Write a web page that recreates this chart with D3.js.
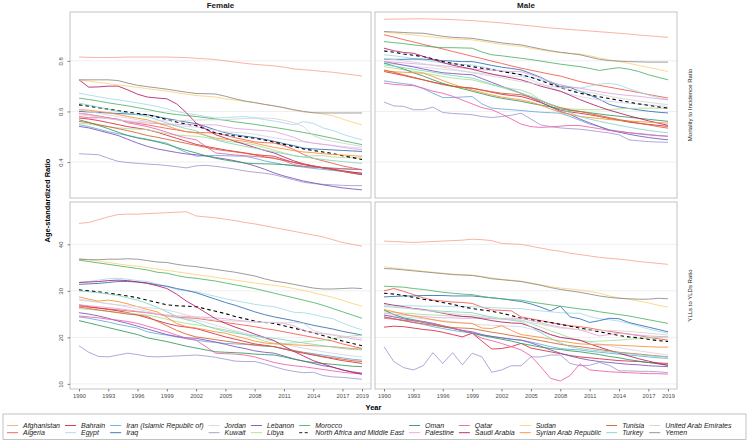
<!DOCTYPE html>
<html><head><meta charset="utf-8">
<script src="https://cdn.jsdelivr.net/npm/d3@7"></script>
<style>
body{margin:0;background:#fff;}
svg{display:block;font-family:"Liberation Sans",Arial,sans-serif;}
</style></head>
<body><svg id="c" width="749" height="440"></svg>
<script>
const years = [1990,1991,1992,1993,1994,1995,1996,1997,1998,1999,2000,2001,2002,2003,2004,2005,2006,2007,2008,2009,2010,2011,2012,2013,2014,2015,2016,2017,2018,2019];
const xTicks = [1990,1993,1996,1999,2002,2005,2008,2011,2014,2017,2019];
const mirTicks = [0.4,0.6,0.8];
const yllTicks = [10,20,30,40];
const sexes = ["Female","Male"];
const measures = ["Mortality to Incidence Ratio","YLLs to YLDs Ratio"];
const countries = ["Afghanistan","Algeria","Bahrain","Egypt","Iran (Islamic Republic of)","Iraq","Jordan","Kuwait","Lebanon","Libya","Morocco","North Africa and Middle East","Oman","Palestine","Qatar","Saudi Arabia","Sudan","Syrian Arab Republic","Tunisia","Turkey","United Arab Emirates","Yemen"];
const colors = ["#FCA58C","#F0584A","#D7263D","#A6D8EA","#67A9DA","#2F6DB5","#D5D3EA","#A099D0","#7B52B9","#A9DE94","#4DB466","#000000","#2E9A5A","#E3A3DB","#EF5DA8","#B21A67","#FDD27A","#FB8C2E","#D3602C","#7FD4C0","#D3D3D3","#8A8A8A"];
const dashed = [false,false,false,false,false,false,false,false,false,false,false,true,false,false,false,false,false,false,false,false,false,false];

// Female, Mortality to Incidence Ratio (order = countries)
const femaleMIR = [
[.815,.814,.813,.813,.814,.815,.815,.815,.815,.815,.814,.813,.81,.808,.805,.80,.795,.79,.786,.783,.78,.775,.768,.765,.762,.758,.755,.75,.745,.74],
[.593,.588,.582,.575,.568,.56,.553,.547,.54,.533,.527,.52,.517,.516,.515,.506,.496,.488,.48,.477,.475,.465,.45,.43,.415,.405,.395,.385,.377,.37],
[.574,.57,.564,.556,.548,.54,.534,.528,.518,.506,.494,.482,.47,.462,.455,.448,.442,.436,.43,.426,.423,.41,.398,.39,.383,.376,.37,.363,.356,.35],
[.672,.665,.658,.651,.646,.64,.634,.627,.62,.61,.60,.592,.587,.58,.574,.576,.578,.58,.575,.568,.562,.555,.547,.56,.553,.535,.525,.51,.498,.488],
[.548,.54,.53,.52,.512,.505,.497,.49,.482,.475,.455,.438,.423,.425,.426,.425,.424,.423,.415,.405,.397,.39,.385,.38,.375,.371,.367,.363,.36,.357],
[.60,.598,.596,.594,.592,.59,.588,.587,.58,.572,.565,.558,.552,.54,.527,.516,.508,.502,.497,.49,.482,.473,.465,.455,.452,.45,.448,.446,.444,.442],
[.607,.60,.593,.586,.58,.574,.567,.56,.554,.548,.543,.541,.538,.532,.525,.52,.517,.515,.51,.503,.496,.49,.485,.48,.475,.47,.466,.462,.458,.455],
[.433,.431,.429,.415,.403,.398,.395,.392,.39,.386,.382,.377,.385,.387,.383,.378,.372,.365,.36,.356,.35,.34,.33,.32,.315,.312,.31,.308,.307,.307],
[.541,.535,.525,.515,.505,.49,.475,.462,.452,.445,.438,.432,.429,.424,.418,.412,.405,.396,.385,.372,.357,.345,.335,.325,.318,.31,.304,.298,.294,.29],
[.554,.55,.545,.54,.535,.532,.53,.528,.52,.512,.507,.504,.502,.497,.49,.483,.478,.475,.468,.458,.447,.436,.425,.42,.425,.425,.42,.418,.417,.416],
[.653,.647,.641,.634,.628,.622,.615,.608,.60,.593,.588,.584,.58,.575,.57,.565,.559,.554,.549,.543,.537,.531,.524,.517,.51,.502,.494,.485,.477,.469],
[.626,.621,.615,.609,.603,.597,.592,.587,.578,.568,.558,.55,.544,.53,.515,.508,.503,.499,.494,.487,.479,.47,.461,.452,.446,.44,.434,.425,.418,.41],
[.567,.557,.545,.532,.518,.505,.495,.488,.48,.47,.458,.446,.436,.425,.415,.408,.402,.396,.394,.393,.392,.39,.386,.383,.38,.378,.376,.374,.372,.37],
[.593,.588,.58,.572,.566,.56,.556,.554,.552,.55,.549,.548,.548,.547,.547,.54,.533,.53,.527,.524,.521,.51,.498,.482,.475,.47,.465,.458,.453,.449],
[.58,.575,.575,.574,.57,.555,.548,.54,.53,.518,.505,.495,.488,.462,.436,.432,.428,.425,.422,.419,.416,.405,.39,.383,.38,.377,.375,.373,.371,.37],
[.725,.696,.697,.70,.70,.685,.668,.657,.653,.65,.63,.595,.554,.53,.508,.495,.482,.47,.458,.446,.436,.42,.405,.393,.385,.378,.372,.366,.36,.355],
[.725,.72,.715,.71,.705,.70,.695,.69,.685,.68,.674,.668,.663,.66,.657,.65,.645,.64,.635,.628,.622,.614,.605,.598,.595,.59,.583,.57,.558,.547],
[.607,.605,.60,.595,.588,.58,.573,.567,.555,.543,.53,.52,.515,.505,.495,.49,.486,.482,.475,.466,.458,.452,.445,.44,.437,.433,.43,.428,.425,.423],
[.561,.555,.548,.54,.532,.524,.515,.505,.498,.49,.482,.474,.466,.458,.45,.445,.44,.435,.428,.421,.414,.407,.399,.392,.385,.378,.371,.364,.357,.35],
[.633,.625,.617,.608,.60,.593,.587,.58,.568,.555,.542,.532,.524,.505,.488,.478,.47,.462,.455,.448,.44,.433,.426,.42,.415,.41,.406,.402,.398,.395],
[.587,.583,.578,.572,.567,.563,.561,.561,.562,.563,.564,.565,.566,.567,.567,.568,.57,.572,.574,.574,.572,.565,.556,.54,.505,.49,.482,.475,.468,.462],
[.725,.725,.725,.725,.722,.712,.703,.698,.693,.688,.682,.676,.671,.67,.669,.66,.65,.641,.635,.628,.622,.615,.607,.60,.595,.594,.594,.594,.594,.594]
];

// Male, Mortality to Incidence Ratio
const maleMIR = [
[.964,.965,.965,.966,.966,.965,.964,.963,.961,.959,.956,.953,.95,.946,.942,.938,.934,.93,.927,.924,.921,.918,.915,.912,.909,.906,.902,.899,.896,.893],
[.903,.894,.884,.875,.865,.856,.847,.837,.828,.818,.809,.799,.79,.78,.771,.763,.755,.747,.74,.729,.718,.71,.703,.696,.689,.682,.675,.667,.66,.653],
[.758,.75,.742,.733,.725,.716,.708,.70,.696,.692,.684,.676,.668,.663,.659,.648,.635,.62,.605,.598,.593,.587,.58,.572,.565,.558,.553,.549,.545,.541],
[.824,.82,.815,.809,.803,.797,.792,.788,.786,.784,.776,.768,.76,.752,.745,.735,.725,.715,.705,.697,.692,.70,.708,.711,.705,.69,.678,.665,.655,.646],
[.721,.715,.71,.705,.69,.672,.655,.655,.657,.659,.63,.613,.61,.607,.604,.60,.597,.595,.593,.58,.565,.55,.54,.528,.522,.516,.511,.507,.504,.502],
[.807,.806,.806,.807,.807,.804,.801,.799,.797,.797,.79,.782,.775,.77,.764,.75,.735,.715,.698,.695,.68,.665,.648,.628,.618,.612,.606,.601,.597,.594],
[.791,.787,.783,.779,.775,.771,.767,.763,.759,.755,.75,.746,.742,.74,.738,.725,.71,.695,.68,.668,.659,.652,.645,.64,.636,.632,.629,.626,.623,.62],
[.637,.622,.62,.607,.607,.617,.596,.592,.59,.587,.58,.576,.58,.585,.593,.57,.547,.54,.535,.532,.53,.525,.52,.515,.508,.488,.484,.481,.479,.478],
[.797,.79,.783,.776,.768,.76,.753,.75,.747,.745,.73,.715,.70,.686,.672,.655,.637,.618,.60,.588,.57,.555,.54,.526,.518,.51,.503,.497,.492,.488],
[.777,.771,.765,.759,.753,.745,.738,.732,.728,.725,.715,.705,.697,.69,.685,.67,.645,.625,.615,.61,.608,.607,.607,.607,.61,.612,.613,.613,.613,.613],
[.876,.872,.868,.863,.859,.855,.852,.852,.851,.85,.835,.824,.82,.815,.81,.805,.799,.793,.787,.782,.777,.77,.762,.768,.773,.767,.758,.745,.735,.725],
[.839,.834,.827,.822,.817,.808,.797,.79,.783,.777,.771,.765,.758,.752,.745,.735,.722,.708,.695,.683,.672,.665,.658,.651,.644,.637,.63,.624,.618,.613],
[.791,.78,.768,.753,.74,.725,.711,.70,.69,.68,.67,.66,.652,.646,.64,.632,.625,.618,.61,.604,.60,.595,.59,.585,.581,.577,.573,.569,.565,.561],
[.797,.795,.792,.789,.786,.783,.78,.776,.772,.768,.765,.763,.76,.758,.757,.745,.732,.718,.705,.697,.692,.685,.678,.672,.667,.663,.66,.655,.65,.646],
[.712,.707,.704,.702,.692,.68,.672,.66,.645,.63,.615,.607,.59,.57,.55,.54,.537,.539,.542,.545,.544,.538,.532,.525,.52,.516,.513,.509,.505,.502],
[.85,.84,.833,.83,.818,.805,.793,.783,.775,.767,.757,.748,.74,.733,.725,.713,.70,.69,.68,.664,.647,.632,.618,.605,.594,.583,.573,.563,.554,.545],
[.913,.91,.906,.902,.898,.894,.89,.887,.885,.883,.877,.871,.865,.861,.857,.85,.843,.837,.832,.83,.827,.82,.812,.804,.797,.79,.782,.774,.766,.758],
[.76,.757,.755,.753,.751,.738,.722,.708,.695,.685,.675,.665,.657,.651,.646,.637,.625,.61,.597,.588,.58,.576,.572,.568,.565,.562,.56,.558,.556,.554],
[.764,.755,.745,.735,.725,.715,.706,.699,.695,.692,.685,.678,.672,.669,.666,.655,.642,.628,.615,.606,.60,.592,.584,.576,.568,.561,.554,.547,.54,.534],
[.784,.779,.773,.767,.761,.755,.748,.742,.737,.732,.72,.708,.695,.683,.672,.66,.645,.628,.61,.595,.58,.57,.561,.553,.545,.538,.531,.525,.52,.515],
[.81,.805,.80,.795,.789,.782,.775,.767,.76,.753,.746,.74,.733,.725,.718,.712,.706,.70,.694,.687,.681,.675,.668,.66,.653,.647,.641,.636,.631,.627],
[.916,.914,.912,.91,.909,.903,.897,.893,.891,.889,.883,.877,.871,.867,.863,.855,.847,.84,.834,.829,.824,.815,.806,.801,.799,.797,.796,.795,.795,.795]
];

// Female, YLLs to YLDs Ratio
const femaleYLL = [
[44.5,44.7,45.3,45.9,46.4,46.5,46.5,46.6,46.7,46.8,46.9,47.0,46.1,45.9,45.7,45.4,45.1,44.7,44.4,44.0,43.6,43.2,42.8,42.4,42.0,41.6,41.0,40.4,40.0,39.6],
[26.7,26.5,26.3,26.1,25.9,25.7,25.5,25.3,25.0,24.6,24.3,24.2,24.1,23.8,23.5,23.2,22.9,22.6,22.3,21.9,21.6,21.2,20.8,20.4,20.0,19.6,19.2,18.6,18.1,17.6],
[27.0,26.6,26.3,26.0,25.7,25.3,24.8,24.2,23.6,23.0,22.5,22.2,21.9,21.3,20.7,20.1,19.6,19.1,18.6,18.3,18.0,17.5,17.0,16.6,16.2,15.8,15.4,15.0,14.7,14.4],
[31.8,32.0,32.3,32.6,32.7,32.5,32.2,32.0,31.5,30.9,30.3,30.0,29.8,29.3,28.8,28.3,27.9,27.5,27.1,26.8,26.6,26.0,25.4,25.3,24.9,24.4,24.0,23.1,22.3,21.6],
[24.4,24.1,23.7,23.3,22.8,22.4,22.0,21.2,20.8,20.5,20.1,19.7,19.4,19.1,18.9,18.7,18.6,18.5,18.3,18.1,18.0,17.6,17.2,16.8,16.5,16.2,15.9,15.6,15.3,15.1],
[31.4,31.5,31.6,31.8,32.0,32.0,31.9,31.7,31.3,31.0,30.5,30.1,29.6,28.9,28.2,27.5,26.9,26.2,25.5,24.9,24.4,24.0,23.6,23.1,22.6,22.2,21.8,21.3,20.9,20.5],
[28.2,27.9,27.6,27.3,26.9,26.5,26.1,25.6,25.1,24.6,24.2,23.9,23.7,23.2,22.6,22.0,21.4,20.9,20.4,19.7,19.1,18.6,18.1,17.7,17.3,16.9,16.6,16.3,16.0,15.8],
[18.2,16.8,15.9,15.8,16.2,16.6,16.3,15.9,15.8,15.9,16.0,16.1,16.2,16.0,15.7,15.3,14.9,14.8,14.8,14.3,13.7,13.1,12.7,12.4,12.5,11.8,11.5,11.4,11.2,11.0],
[25.3,25.0,24.6,24.1,23.5,23.0,22.4,21.8,21.2,20.6,20.2,19.9,19.8,19.4,19.0,18.5,18.0,17.6,17.1,16.8,16.6,16.0,15.4,14.9,14.4,13.9,13.6,13.0,12.6,12.3],
[26.2,26.0,25.8,25.6,25.4,25.2,25.0,24.8,24.4,23.9,23.4,23.0,22.7,22.4,22.0,21.6,21.2,20.6,19.9,19.2,18.7,18.7,18.8,19.0,19.2,19.4,19.7,20.0,20.3,20.5],
[36.6,36.3,36.0,35.7,35.4,35.1,34.8,34.5,34.0,33.8,33.3,32.9,32.7,32.4,32.1,31.7,31.3,30.9,30.5,30.0,29.5,29.0,28.5,28.0,27.5,26.9,26.2,25.5,24.8,24.1],
[30.2,30.0,29.8,29.5,29.2,28.9,28.5,28.0,27.5,27.0,26.8,26.7,26.6,26.1,25.6,25.1,24.5,24.0,23.5,23.2,23.0,22.5,22.0,21.5,21.0,20.4,19.8,19.2,18.7,18.2],
[23.6,23.1,22.6,22.1,21.6,21.1,20.6,19.9,19.5,19.1,18.6,18.1,17.7,17.3,16.9,16.8,16.7,16.6,16.4,16.3,16.2,15.8,15.3,14.9,14.6,14.4,14.2,14.0,13.8,13.7],
[27.0,26.8,26.6,26.4,26.2,25.9,25.6,25.3,25.0,24.8,24.6,24.5,24.4,24.3,24.2,24.0,23.7,23.5,23.3,23.2,23.2,23.0,22.5,21.5,21.0,20.8,20.5,20.1,19.7,19.4],
[24.6,24.4,24.2,23.9,23.7,23.4,23.0,22.4,21.8,21.2,20.5,19.8,19.4,18.0,16.6,16.5,16.4,16.2,15.8,15.2,14.6,14.2,13.9,13.7,13.4,13.1,12.8,12.5,12.3,12.1],
[31.8,31.9,32.0,32.2,32.3,32.2,31.9,31.6,31.1,30.5,29.3,27.8,26.6,25.3,24.0,23.0,22.2,21.5,20.7,20.0,19.3,18.1,17.0,16.0,15.0,14.3,13.6,13.0,12.5,12.1],
[37.0,36.7,36.4,36.1,35.8,35.5,35.3,35.0,34.7,34.4,34.1,33.8,33.5,33.2,32.9,32.6,32.3,32.0,31.7,31.4,31.2,30.9,30.5,30.1,29.6,29.1,28.6,28.0,27.3,26.7],
[28.7,28.2,27.8,28.0,27.7,27.2,26.6,26.0,25.5,24.3,23.0,22.3,22.0,21.6,21.2,20.9,20.3,19.8,19.2,18.8,18.6,18.5,18.4,18.3,18.2,18.1,18.0,17.8,17.6,17.5],
[26.5,26.2,25.9,25.6,25.3,25.0,24.8,24.5,23.5,22.5,21.5,20.7,20.1,19.8,19.5,19.2,18.9,18.6,18.4,18.2,18.0,17.5,17.1,16.7,16.3,15.9,15.6,15.3,15.0,14.8],
[30.0,29.8,29.6,29.3,29.0,28.5,28.0,27.3,26.5,25.5,24.5,23.8,23.3,22.5,21.8,21.3,20.9,20.6,20.3,20.0,19.8,19.5,19.1,18.8,18.5,18.2,17.9,17.6,17.4,17.3],
[28.0,27.8,27.5,27.2,27.0,26.8,26.6,26.4,26.2,25.9,25.4,24.8,24.3,24.0,23.7,23.6,23.5,23.4,23.3,23.3,23.2,23.1,23.2,23.0,21.5,20.9,20.6,20.3,20.0,19.8],
[36.8,36.7,36.7,36.8,36.8,36.9,36.8,36.5,36.2,36.1,35.7,35.4,35.2,34.9,34.6,34.3,34.0,33.6,33.2,32.6,32.1,31.8,31.4,31.0,30.6,30.4,30.4,30.5,30.6,30.5]
];

// Male, YLLs to YLDs Ratio
const maleYLL = [
[40.7,40.6,40.5,40.4,40.5,40.6,40.7,40.8,40.9,41.1,41.0,40.8,40.2,40.1,40.0,39.6,39.2,38.8,38.5,38.1,37.8,37.5,37.2,37.0,36.8,36.6,36.3,36.1,35.9,35.7],
[30.0,30.5,29.9,29.2,28.5,28.0,27.8,27.6,27.5,27.3,26.5,25.9,25.8,25.7,24.4,24.0,23.6,23.2,22.8,22.5,22.3,22.0,21.6,21.3,21.0,20.7,20.4,20.0,19.7,19.4],
[22.2,22.4,22.3,22.0,21.7,21.5,21.1,20.6,20.1,20.9,19.2,17.5,17.6,18.0,18.7,17.7,17.3,16.9,16.5,16.1,15.8,15.6,15.4,15.2,15.0,14.9,14.8,14.6,14.5,14.4],
[27.0,26.9,26.8,26.8,26.7,26.7,26.7,26.6,26.6,26.6,26.5,26.4,26.3,26.2,26.2,25.9,25.7,25.5,25.3,25.2,25.2,24.5,24.0,23.8,23.5,23.0,22.4,21.8,21.3,20.9],
[24.4,24.0,23.6,23.2,22.8,22.3,21.9,21.5,21.2,20.9,20.5,20.2,19.9,19.6,19.4,19.0,18.5,18.0,17.6,17.4,17.3,17.0,16.8,16.6,16.4,16.2,16.0,15.8,15.6,15.5],
[28.7,28.8,28.9,28.9,29.0,29.0,29.0,28.9,28.9,28.9,28.7,28.5,28.3,28.0,27.7,27.2,26.5,25.7,26.7,24.4,24.0,23.2,23.6,24.1,24.0,23.2,22.7,22.2,21.7,21.2],
[24.8,24.6,24.4,24.2,24.0,23.8,23.6,23.4,23.1,22.9,22.7,22.6,22.5,22.4,22.3,21.8,21.2,20.6,20.0,19.7,19.4,19.0,18.6,18.2,17.8,17.4,17.1,16.8,16.5,16.2],
[18.0,14.8,13.5,13.0,13.9,16.7,14.4,16.7,14.1,16.6,15.8,12.5,13.0,13.9,13.9,15.8,15.8,16.2,16.2,14.4,13.9,14.0,14.6,14.0,12.8,12.8,12.7,12.7,12.6,12.4],
[24.8,24.4,24.0,23.6,23.2,22.8,22.3,21.9,21.5,21.2,20.6,20.2,19.9,19.6,19.4,18.8,18.1,17.3,16.6,16.0,15.5,15.1,14.8,14.6,14.4,14.2,14.1,13.9,13.8,13.7],
[25.5,25.4,25.2,25.1,24.9,24.8,24.7,24.6,24.5,24.4,24.2,24.0,23.9,23.8,23.7,23.0,22.2,21.4,20.7,19.9,19.3,19.1,19.2,19.3,19.4,19.6,19.7,19.9,20.0,20.1],
[31.0,30.9,30.8,30.5,30.3,30.0,29.7,29.5,29.3,29.2,28.8,28.5,28.3,28.1,28.0,27.6,27.3,27.0,26.7,26.4,26.1,25.9,25.5,25.2,24.9,24.6,24.2,23.8,23.4,23.0],
[29.5,29.3,29.0,28.6,28.2,27.9,27.5,27.1,26.6,26.2,25.9,25.6,25.2,24.7,24.1,23.8,23.5,23.2,22.8,22.4,22.0,21.6,21.2,20.8,20.4,20.1,19.9,19.6,19.3,19.1],
[25.9,24.9,24.2,23.8,23.4,23.0,22.5,22.0,21.4,20.9,20.4,20.0,19.6,19.2,18.7,18.3,17.9,17.6,17.4,17.1,16.9,16.6,16.3,15.9,15.6,15.2,14.9,14.6,14.3,14.0],
[25.2,25.0,24.8,24.6,24.5,24.3,24.2,24.2,24.1,24.1,24.1,24.1,24.1,24.1,24.1,23.6,23.1,22.6,22.2,21.9,21.6,21.0,20.3,20.6,20.9,20.7,20.5,20.3,20.2,20.1],
[24.1,23.9,23.7,23.5,23.4,23.0,22.5,22.0,21.5,20.9,19.8,19.3,18.7,18.0,17.3,16.0,13.7,11.2,10.6,11.8,14.3,13.0,12.8,12.6,12.5,12.4,12.3,12.2,12.2,12.1],
[27.3,26.9,26.6,26.2,26.0,25.6,25.2,24.8,24.5,24.4,24.0,23.6,23.3,23.1,23.0,22.3,21.5,20.6,20.0,19.7,19.4,18.6,17.9,17.2,16.6,16.0,15.4,14.9,14.4,14.0],
[35.2,34.9,34.7,34.5,34.2,34.0,33.8,33.6,33.5,33.4,33.1,32.8,32.5,32.3,32.1,31.7,31.3,30.9,30.6,30.4,30.2,29.9,29.5,28.9,28.5,28.2,27.8,27.4,26.9,26.5],
[26.0,25.5,25.0,24.6,24.2,23.8,23.4,23.2,23.1,23.0,22.0,21.9,22.5,21.5,20.6,20.3,20.0,19.6,19.2,18.9,18.6,18.5,18.4,18.4,18.3,18.2,18.1,18.0,17.9,17.9],
[24.4,24.0,23.6,23.2,22.9,22.6,22.3,22.1,22.0,21.9,21.5,21.1,20.8,20.4,20.1,19.7,19.3,18.9,18.5,18.2,18.0,17.7,17.4,17.1,16.8,16.6,16.4,16.2,16.0,15.8],
[26.6,26.5,26.3,26.1,25.9,25.8,25.6,25.5,25.4,25.3,24.8,24.4,24.0,23.7,23.4,22.3,21.0,19.8,18.8,18.0,17.6,17.3,17.1,16.9,16.7,16.5,16.3,16.1,15.9,15.8],
[27.0,26.7,26.4,26.1,25.8,25.6,25.3,25.1,24.9,24.8,24.5,24.2,24.0,23.8,23.7,23.2,22.8,22.4,22.0,21.8,21.6,21.5,21.5,21.5,21.4,21.3,21.1,20.9,20.7,20.5],
[34.8,34.7,34.5,34.3,34.1,33.9,33.7,33.5,33.4,33.3,33.0,32.6,32.4,32.2,32.0,31.6,31.2,30.7,30.3,30.0,29.7,29.3,28.9,28.6,28.4,28.3,28.2,28.2,28.4,28.3]
];

const panelData = [[femaleMIR, maleMIR],[femaleYLL, maleYLL]];
const yDomains = [[0.258,0.993],[8.9,49.1]];
const yTickSets = [mirTicks, yllTicks];

const svg = d3.select("#c");
const FONT = '"Liberation Sans",Arial,sans-serif';
const colX = [[70,371],[375,677]];
const rowY = [[12,198],[202,389]];
const pad = 9;

const xs = colX.map(c => d3.scaleLinear().domain([1990,2019]).range([c[0]+pad, c[1]-pad]));
const ys = rowY.map((r,i) => d3.scaleLinear().domain(yDomains[i]).range([r[1], r[0]]));

for (let r=0;r<2;r++){
  for (let c=0;c<2;c++){
    const x = xs[c], y = ys[r];
    const g = svg.append("g");
    g.append("rect").attr("x",colX[c][0]).attr("y",rowY[r][0])
      .attr("width",colX[c][1]-colX[c][0]).attr("height",rowY[r][1]-rowY[r][0])
      .attr("fill","#fff");
    g.selectAll("line.grid").data(yTickSets[r]).enter().append("line")
      .attr("x1",colX[c][0]).attr("x2",colX[c][1])
      .attr("y1",d=>y(d)).attr("y2",d=>y(d))
      .attr("stroke","#EBEBEB").attr("stroke-width",0.8);
    const clipId = "clip"+r+c;
    svg.append("clipPath").attr("id",clipId).append("rect")
      .attr("x",colX[c][0]).attr("y",rowY[r][0])
      .attr("width",colX[c][1]-colX[c][0]).attr("height",rowY[r][1]-rowY[r][0]);
    const line = d3.line().x((d,i)=>x(years[i])).y(d=>y(d));
    const lg = g.append("g").attr("clip-path","url(#"+clipId+")");
    panelData[r][c].forEach((vals,k)=>{
      lg.append("path").datum(vals).attr("d",line)
        .attr("fill","none").attr("stroke",colors[k])
        .attr("stroke-width", dashed[k]?1.1:0.85)
        .attr("stroke-dasharray", dashed[k]?"3.5,3":null)
        .attr("stroke-linejoin","round");
    });
    g.append("rect").attr("x",colX[c][0]).attr("y",rowY[r][0])
      .attr("width",colX[c][1]-colX[c][0]).attr("height",rowY[r][1]-rowY[r][0])
      .attr("fill","none").attr("stroke","#B3B3B3").attr("stroke-width",0.8);
    if (c===0){
      const ax = svg.append("g").attr("transform",`translate(${colX[0][0]},0)`)
        .call(d3.axisLeft(y).tickValues(yTickSets[r]).tickSize(2.5).tickPadding(2)
          .tickFormat(r===0?d3.format(".1f"):d3.format("d")));
      ax.select(".domain").remove();
      ax.selectAll(".tick line").attr("stroke","#333").attr("stroke-width",0.6);
      ax.selectAll(".tick text").attr("fill","#4D4D4D").style("font-size","6px")
        .style("font-family",FONT)
        .attr("transform","rotate(-90)").attr("x",0).attr("y",-7).attr("dy","0")
        .attr("text-anchor","middle");
    }
    if (r===1){
      const ax = svg.append("g").attr("transform",`translate(0,${rowY[1][1]})`)
        .call(d3.axisBottom(x).tickValues(xTicks).tickSize(2.5).tickPadding(2).tickFormat(d3.format("d")));
      ax.select(".domain").remove();
      ax.selectAll(".tick line").attr("stroke","#333").attr("stroke-width",0.6);
      ax.selectAll(".tick text").attr("fill","#4D4D4D").style("font-size","5.8px").style("font-family",FONT);
    }
  }
}

// strip labels
sexes.forEach((s,c)=>{
  svg.append("text").attr("x",(colX[c][0]+colX[c][1])/2).attr("y",8)
    .attr("text-anchor","middle").style("font-size","8px").style("font-weight","bold")
    .attr("fill","#1A1A1A").style("font-family",FONT).text(s);
});
measures.forEach((m,r)=>{
  const cy=(rowY[r][0]+rowY[r][1])/2, cx=690;
  svg.append("text").attr("transform",`translate(${cx},${cy}) rotate(-90)`)
    .attr("text-anchor","middle").attr("dy","0.35em").style("font-size","6px")
    .attr("fill","#1A1A1A").style("font-family",FONT).text(m);
});
// axis titles
svg.append("text").attr("transform",`translate(47,${(rowY[0][0]+rowY[1][1])/2}) rotate(-90)`)
  .attr("text-anchor","middle").attr("dy","0.35em").style("font-size","7.5px").style("font-weight","bold")
  .attr("fill","#000").style("font-family",FONT).text("Age-standardized Ratio");
svg.append("text").attr("x",(colX[0][0]+colX[1][1])/2).attr("y",410)
  .attr("text-anchor","middle").style("font-size","7.5px").style("font-weight","bold")
  .attr("fill","#000").style("font-family",FONT).text("Year");

// legend
svg.append("rect").attr("x",3).attr("y",414).attr("width",743).attr("height",25.5)
  .attr("fill","#fff").attr("stroke","#B3B3B3").attr("stroke-width",0.8);
const rowsY = [425.5,432.7];
const nCols = Math.ceil(countries.length/2);
function drawLegend(fs, gap){
  const leg = svg.append("g").attr("class","legend");
  let cx = 7, end = 0;
  for (let col=0; col<nCols; col++){
    let maxW = 0;
    for (let rr=0; rr<2; rr++){
      const k = col*2+rr; if (k>=countries.length) continue;
      leg.append("line").attr("x1",cx).attr("x2",cx+11).attr("y1",rowsY[rr]).attr("y2",rowsY[rr])
        .attr("stroke",colors[k]).attr("stroke-width",0.9).attr("stroke-dasharray",dashed[k]?"3,2.5":null);
      const t = leg.append("text").attr("x",cx+16).attr("y",rowsY[rr]).attr("dy","0.35em")
        .style("font-size",fs+"px").style("font-style","italic").style("font-family",FONT)
        .attr("fill","#1A1A1A").text(countries[k]);
      maxW = Math.max(maxW, t.node().getComputedTextLength());
    }
    end = cx + 16 + maxW;
    cx = end + gap;
  }
  return {leg, end};
}
let fs = 7, res;
for (;;) {
  res = drawLegend(fs, 5);
  if (res.end <= 743 || fs <= 5.5) break;
  res.leg.remove();
  fs -= 0.1;
}
</script></body></html>
